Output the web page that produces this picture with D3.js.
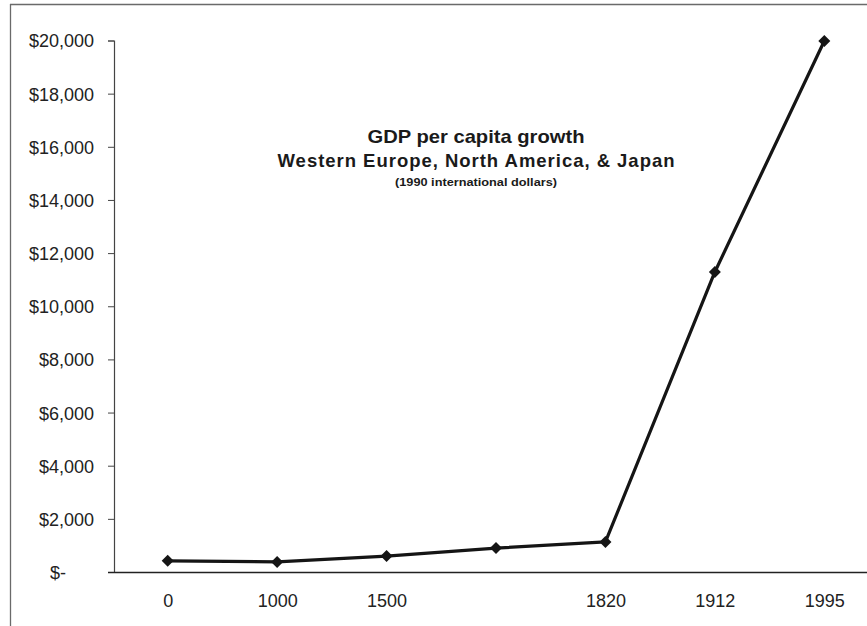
<!DOCTYPE html>
<html>
<head>
<meta charset="utf-8">
<script src="https://cdn.jsdelivr.net/npm/d3@7/dist/d3.min.js"></script>
<style>
  html, body { margin: 0; padding: 0; background: #fff; }
  svg { display: block; }
</style>
</head>
<body>
<svg id="chart" width="867" height="626"></svg>
<script>
// ---- data ----
const categories = ["0", "1000", "1500", "1700", "1820", "1912", "1995"];
const xTickLabels = ["0", "1000", "1500", "", "1820", "1912", "1995"];
const gdpValues = [420, 380, 600, 900, 1130, 11290, 19980];
const yTicks = [0, 2000, 4000, 6000, 8000, 10000, 12000, 14000, 16000, 18000, 20000];
const titleLines = ["GDP per capita growth", "Western Europe, North America, & Japan", "(1990 international dollars)"];

// ---- layout ----
const W = 867, H = 626;
const svg = d3.select("#chart");
const axisX = 114, axisBottom = 572, axisTop = 40.5;

const x = d3.scalePoint().domain(categories).range([113, 879]).padding(0.5);
const y = d3.scaleLinear().domain([0, 20000]).range([axisBottom, axisTop]);

// frame
svg.append("line").attr("x1", 10.5).attr("x2", 10.5).attr("y1", 4).attr("y2", H)
  .attr("stroke", "#6a6a6a").attr("stroke-width", 1.3);
svg.append("line").attr("x1", 10).attr("x2", W).attr("y1", 4.5).attr("y2", 4.5)
  .attr("stroke", "#6a6a6a").attr("stroke-width", 1.3);

// y axis
const fmt = d => d === 0 ? "$-" : "$" + d3.format(",")(d);
const yAxis = d3.axisLeft(y).tickValues(yTicks).tickFormat(fmt).tickSize(6).tickPadding(14);
const gy = svg.append("g").attr("transform", `translate(${axisX},0)`).call(yAxis);
gy.select(".domain").attr("stroke", "#444").attr("stroke-width", 1.2);
gy.selectAll(".tick line").attr("stroke", "#444").attr("stroke-width", 1);
gy.selectAll(".tick text")
  .attr("font-family", "'Liberation Sans', Arial, sans-serif")
  .attr("font-size", "18px")
  .attr("fill", "#222")
  .attr("dy", "0.36em")
  .attr("dx", d => d === 0 ? -28 : 0);

// x axis
const xAxis = d3.axisBottom(x).tickSize(0).tickPadding(22)
  .tickFormat((d, i) => xTickLabels[categories.indexOf(d)]);
const gx = svg.append("g").attr("transform", `translate(0,${axisBottom})`).call(xAxis);
gx.select(".domain").attr("d", `M${axisX - 6},0.5H${W}`).attr("stroke", "#222").attr("stroke-width", 1.6);
gx.selectAll(".tick text")
  .attr("font-family", "'Liberation Sans', Arial, sans-serif")
  .attr("font-size", "18px")
  .attr("fill", "#222");

// line
const line = d3.line().x((d, i) => x(categories[i])).y(d => y(d));
svg.append("path").datum(gdpValues)
  .attr("d", line)
  .attr("fill", "none")
  .attr("stroke", "#151515")
  .attr("stroke-width", 3.2)
  .attr("stroke-linejoin", "round");

// markers (square diamonds)
const marker = d3.symbol().type(d3.symbolSquare).size(72);
svg.append("g").selectAll("path").data(gdpValues).join("path")
  .attr("transform", (d, i) => `translate(${x(categories[i])},${y(d)}) rotate(45)`)
  .attr("d", marker)
  .attr("fill", "#151515");

// title
const cx = 476;
const t = svg.append("g").attr("font-family", "'Liberation Sans', Arial, sans-serif")
  .attr("font-weight", "bold").attr("fill", "#1a1a1a").attr("text-anchor", "middle");
t.append("text").attr("x", cx).attr("y", 143).attr("font-size", "18.5px")
  .attr("textLength", 217).attr("lengthAdjust", "spacingAndGlyphs").text(titleLines[0]);
t.append("text").attr("x", cx).attr("y", 167).attr("font-size", "18.5px")
  .attr("textLength", 397).attr("lengthAdjust", "spacing").text(titleLines[1]);
t.append("text").attr("x", cx).attr("y", 186).attr("font-size", "11px")
  .attr("textLength", 162).attr("lengthAdjust", "spacingAndGlyphs").text(titleLines[2]);
</script>
</body>
</html>
